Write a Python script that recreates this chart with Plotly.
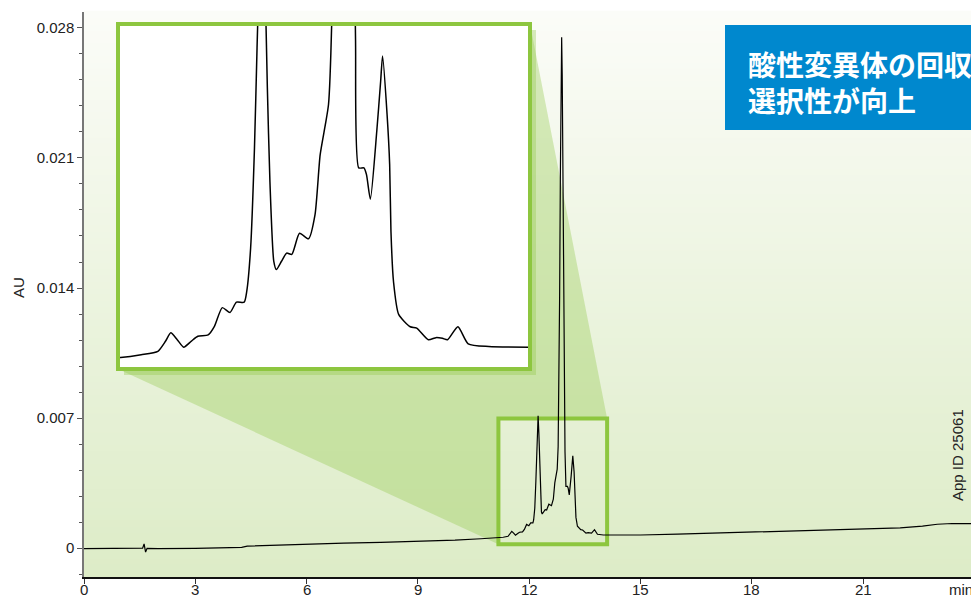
import plotly.graph_objects as go

# ---------------- data ----------------
time_min = [0.0, 0.5, 1.0, 1.5, 1.58, 1.62, 1.66, 1.70, 2.0, 3.0, 4.0, 4.25, 4.4, 5.0, 6.0, 7.0, 8.0,
            9.0, 10.0, 10.7, 11.14, 11.30, 11.43, 11.49, 11.53, 11.58, 11.63, 11.69, 11.74, 11.82,
            11.87, 11.93, 11.99, 12.04, 12.10, 12.12, 12.15, 12.18, 12.20, 12.22, 12.24, 12.26,
            12.28, 12.30, 12.33, 12.35, 12.39, 12.43, 12.47, 12.53, 12.60, 12.65, 12.69, 12.73,
            12.755, 12.78, 12.80, 12.82, 12.84, 12.86, 12.875, 12.89, 12.91, 12.93, 12.95, 12.965,
            12.99, 13.03, 13.05, 13.08, 13.13, 13.16, 13.175, 13.21, 13.23, 13.24, 13.26, 13.30,
            13.39, 13.44, 13.53, 13.59, 13.64, 13.68, 13.76, 13.84, 14.00, 14.31, 15.0, 16.0, 17.0,
            18.0, 19.0, 20.0, 21.0, 22.0, 22.6, 23.0, 23.4, 23.9, 24.3]
absorbance_au = [-0.00003, -0.00003, -0.00002, -0.00002, -0.00001, 0.00022, -0.00022, -0.00002,
                 -0.00003, -0.00002, 0.00001, 0.00004, 0.00010, 0.00014, 0.00021, 0.00026, 0.00030,
                 0.00034, 0.00042, 0.00050, 0.00054, 0.00058, 0.00063, 0.00078, 0.00090, 0.00080,
                 0.00069, 0.00078, 0.00085, 0.00087, 0.00100, 0.00127, 0.00120, 0.00135, 0.00135,
                 0.00151, 0.00214, 0.00361, 0.00508, 0.00640, 0.00712, 0.00620, 0.00450, 0.00312,
                 0.00195, 0.00183, 0.00195, 0.00207, 0.00205, 0.00236, 0.00228, 0.00263, 0.00351,
                 0.00395, 0.00425, 0.00545, 0.00850, 0.01350, 0.02000, 0.02620, 0.02750, 0.02550,
                 0.01900, 0.01200, 0.00750, 0.00520, 0.00332, 0.00332, 0.00322, 0.00286, 0.00386,
                 0.00459, 0.00496, 0.00410, 0.00337, 0.00239, 0.00165, 0.00117, 0.00099, 0.00097,
                 0.00080, 0.00083, 0.00082, 0.00080, 0.00099, 0.00074, 0.00070, 0.00069, 0.00070,
                 0.00075, 0.00080, 0.00084, 0.00090, 0.00095, 0.00100, 0.00108, 0.00118, 0.00128,
                 0.00132, 0.00130, 0.00130]

x_ticks = [0, 3, 6, 9, 12, 15, 18, 21]
x_tick_labels = ["0", "3", "6", "9", "12", "15", "18", "21"]
y_ticks = [0, 0.007, 0.014, 0.021, 0.028]
y_tick_labels = ["0", "0.007", "0.014", "0.021", "0.028"]
x_unit_label = "min"
y_title = "AU"
title_lines = ["酸性変異体の回収", "選択性が向上"]
app_id = "App ID 25061"

zoom_x = [11.17, 14.10]          # highlighted window (min)
zoom_y = [0.00020, 0.00698]      # highlighted window (AU)
inset_x_range = [11.12, 14.32]
inset_y_range = [0.00037, 0.00543]

# ---------------- layout geometry ----------------
W, H = 971, 597
ML, MR, MT, MB = 84, 0, 12, 20
PW, PH = W - ML - MR, H - MT - MB
X_RANGE = [0, PW / 37.1]
Y_RANGE = [-0.00156, 0.02886]

GREEN = "#8DC63F"
SHADE = "rgba(141,198,63,0.33)"
TXT = "#222"
FONT = "Liberation Sans"


def px_x(px):
    return (px - ML) / PW


def px_y(py):
    return (H - MB - py) / PH


def dx(v):
    return (v - X_RANGE[0]) / (X_RANGE[1] - X_RANGE[0])


def dy(v):
    return (v - Y_RANGE[0]) / (Y_RANGE[1] - Y_RANGE[0])


inset_px = (118, 24, 530, 369)  # left, top, right, bottom in pixels
ix0, ix1 = px_x(inset_px[0]), px_x(inset_px[2])
iy0, iy1 = px_y(inset_px[3]), px_y(inset_px[1])
bx0, bx1 = dx(zoom_x[0]), dx(zoom_x[1])
by0, by1 = dy(zoom_y[0]), dy(zoom_y[1])

fig = go.Figure()
fig.add_trace(go.Scatter(x=time_min, y=absorbance_au, mode="lines",
                         line=dict(color="black", width=1.2), xaxis="x", yaxis="y",
                         hoverinfo="skip", showlegend=False))
fig.add_trace(go.Scatter(x=time_min, y=absorbance_au, mode="lines",
                         line=dict(color="black", width=1.5, shape="spline", smoothing=0.6),
                         xaxis="x2", yaxis="y2", hoverinfo="skip", showlegend=False))

shapes = []
# background gradient (plot area only)
top_c = (251, 252, 248)
bot_c = (221, 236, 199)
N = 90
for i in range(N):
    f = i / (N - 1)
    c = tuple(round(bot_c[k] + (top_c[k] - bot_c[k]) * f) for k in range(3))
    shapes.append(dict(type="rect", xref="paper", yref="paper", x0=0, x1=1.05,
                       y0=i / N, y1=(i + 1) / N + 0.002, line=dict(width=0),
                       fillcolor="rgb(%d,%d,%d)" % c, layer="below"))
# inset drop shadow
sx, sy = 6 / PW, 6 / PH
shapes.append(dict(type="rect", xref="paper", yref="paper", x0=ix0 + sx, x1=ix1 + sx,
                   y0=iy0 - sy, y1=iy1 - sy, line=dict(width=0), fillcolor=SHADE, layer="below"))
# projection shade
path = "M %f,%f L %f,%f L %f,%f L %f,%f L %f,%f L %f,%f Z" % (
    ix0, iy0, ix0, iy1, ix1, iy1, bx1, by1, bx0, by1, bx0, by0)
shapes.append(dict(type="path", xref="paper", yref="paper", path=path,
                   line=dict(width=0), fillcolor=SHADE, layer="below"))
# highlighted window
shapes.append(dict(type="rect", xref="paper", yref="paper", x0=bx0, x1=bx1, y0=by0, y1=by1,
                   line=dict(color=GREEN, width=4), fillcolor="rgba(0,0,0,0)", layer="below"))
# inset background
shapes.append(dict(type="rect", xref="paper", yref="paper", x0=ix0, x1=ix1, y0=iy0, y1=iy1,
                   line=dict(width=0), fillcolor="white", layer="below"))
# inset border
shapes.append(dict(type="rect", xref="paper", yref="paper", x0=ix0, x1=ix1, y0=iy0, y1=iy1,
                   line=dict(color=GREEN, width=4), fillcolor="rgba(0,0,0,0)", layer="above"))
# title box
shapes.append(dict(type="rect", xref="paper", yref="paper", x0=px_x(725), x1=1.1,
                   y0=px_y(130), y1=px_y(25), line=dict(width=0), fillcolor="#0088CE",
                   layer="above"))

annotations = [
    dict(text="<br>".join(title_lines), xref="paper", yref="paper", x=px_x(746), y=px_y(82),
         xanchor="left", yanchor="middle", align="left", showarrow=False,
         font=dict(family="Noto Sans CJK JP", size=28, color="white", weight="bold")),
    dict(text=app_id, xref="paper", yref="paper", x=px_x(957), y=px_y(455), textangle=-90,
         xanchor="center", yanchor="middle", showarrow=False,
         font=dict(family=FONT, size=15, color=TXT)),
    dict(text=y_title, xref="paper", yref="paper", x=px_x(18), y=px_y(288), textangle=-90,
         xanchor="center", yanchor="middle", showarrow=False,
         font=dict(family=FONT, size=15, color=TXT)),
]
# x tick labels (drawn as text so they sit where the reference puts them)
for v, lab in zip(x_ticks + [24], x_tick_labels + [x_unit_label]):
    xp = dx(v) if lab != x_unit_label else px_x(961)
    annotations.append(dict(text=lab, xref="paper", yref="paper", x=xp, y=px_y(589),
                            xanchor="center", yanchor="middle", showarrow=False,
                            font=dict(family=FONT, size=15, color=TXT)))

fig.update_layout(
    width=W, height=H,
    margin=dict(l=ML, r=MR, t=MT, b=MB, pad=0, autoexpand=False),
    paper_bgcolor="white", plot_bgcolor="rgba(0,0,0,0)",
    font=dict(family=FONT, size=15, color=TXT),
    showlegend=False,
    shapes=shapes, annotations=annotations,
    xaxis=dict(range=X_RANGE, domain=[0, 1], tickmode="array", tickvals=x_ticks,
               showticklabels=False, ticks="outside", ticklen=5, tickcolor="#333",
               showline=True, linecolor="#111", linewidth=1.5, showgrid=False,
               zeroline=False, fixedrange=True, anchor="y", automargin=False),
    yaxis=dict(range=Y_RANGE, domain=[0, 1], tickmode="array", tickvals=y_ticks,
               ticktext=y_tick_labels, ticks="outside", ticklen=5, tickcolor="#555",
               showline=True, linecolor="#777", linewidth=1.5, showgrid=False,
               zeroline=False, fixedrange=True, anchor="x", automargin=False,
               minor=dict(dtick=0.0014, tick0=0, ticks="outside", ticklen=3, tickcolor="#555")),
    xaxis2=dict(range=inset_x_range, domain=[ix0, ix1], visible=False, anchor="y2",
                fixedrange=True),
    yaxis2=dict(range=inset_y_range, domain=[iy0, iy1], visible=False, anchor="x2",
                fixedrange=True),
)

fig.write_html("out.html")
